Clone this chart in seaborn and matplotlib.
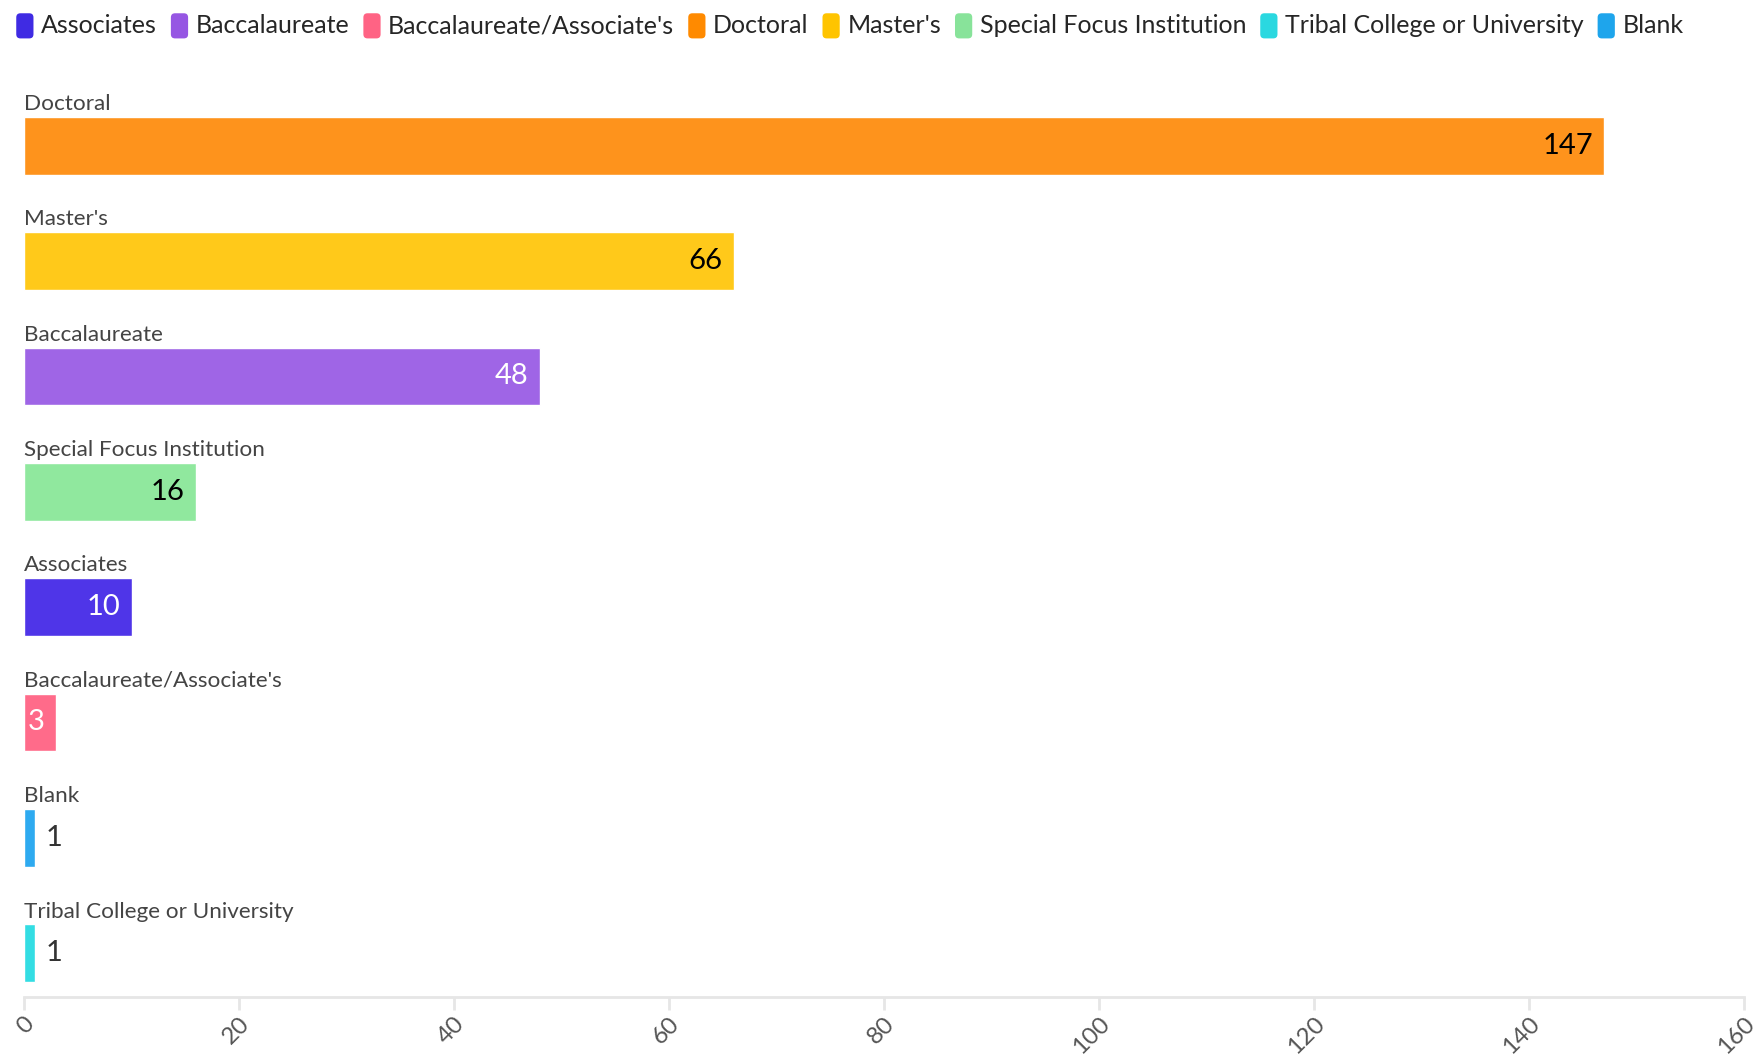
import matplotlib
matplotlib.use("Agg")
import matplotlib.pyplot as plt
import matplotlib.transforms as mtransforms
import seaborn as sns
import pandas as pd
from matplotlib.patches import FancyBboxPatch
from matplotlib.legend_handler import HandlerPatch
from matplotlib.patches import Patch

categories = ["Doctoral", "Master's", "Baccalaureate", "Special Focus Institution",
              "Associates", "Baccalaureate/Associate's", "Blank", "Tribal College or University"]
values = [147, 66, 48, 16, 10, 3, 1, 1]
legend_order = ["Associates", "Baccalaureate", "Baccalaureate/Associate's", "Doctoral",
                "Master's", "Special Focus Institution", "Tribal College or University", "Blank"]
bar_colors = {
    "Associates": "#4f35e8",
    "Baccalaureate": "#9f65e6",
    "Baccalaureate/Associate's": "#ff6b8a",
    "Doctoral": "#fe931c",
    "Master's": "#ffc91a",
    "Special Focus Institution": "#90e89e",
    "Tribal College or University": "#33dde3",
    "Blank": "#2eaaf0",
}
legend_colors = {
    "Associates": "#3f2be3",
    "Baccalaureate": "#9656e3",
    "Baccalaureate/Associate's": "#ff6384",
    "Doctoral": "#ff8a00",
    "Master's": "#ffc400",
    "Special Focus Institution": "#88e39a",
    "Tribal College or University": "#2ad8e0",
    "Blank": "#1ea5ec",
}
label_colors = {"Doctoral": "black", "Master's": "black", "Baccalaureate": "white",
                "Special Focus Institution": "black", "Associates": "white",
                "Baccalaureate/Associate's": "white", "Blank": "#333333",
                "Tribal College or University": "#333333"}
xticks = [0, 20, 40, 60, 80, 100, 120, 140, 160]

df = pd.DataFrame({"category": categories, "value": values})

sns.set_theme(style="white")
plt.rcParams["font.family"] = ["Lato", "DejaVu Sans"]

fig = plt.figure(figsize=(17.58, 10.6), dpi=100)
ax = fig.add_axes([24 / 1758, 1 - 997 / 1060, 1720 / 1758, (997 - 88) / 1060])

sns.barplot(data=df, y="category", x="value", hue="category", palette=bar_colors,
            order=categories, hue_order=categories, orient="h", width=0.5,
            legend=False, dodge=False, ax=ax, saturation=1)

# value labels
for cont in ax.containers:
    bars = [b for b in cont if b.get_width() == b.get_width() and b.get_height() > 0]
    for b in bars:
        w = b.get_width()
        yc = b.get_y() + b.get_height() / 2
        idx = int(round(yc))
        cat = categories[idx]
        if w >= 3:
            ax.annotate(f"{int(w)}", xy=(w, yc), xytext=(-8, 0), textcoords="offset points",
                        ha="right", va="center", fontsize=21, color=label_colors[cat])
        else:
            ax.annotate(f"{int(w)}", xy=(w, yc), xytext=(8, 0), textcoords="offset points",
                        ha="left", va="center", fontsize=21, color=label_colors[cat])

# category labels above bars
for i, cat in enumerate(categories):
    ax.annotate(cat, xy=(0, i - 0.25), xytext=(0, 2), textcoords="offset points",
                ha="left", va="bottom", fontsize=16.2, color="#444444")

ax.set_xlim(0, 160)
ax.set_ylim(7.38, -0.5)
ax.set_xticks(xticks)
ax.set_yticks([])
ax.set_xlabel("")
ax.set_ylabel("")
for s in ["top", "right", "left"]:
    ax.spines[s].set_visible(False)
ax.spines["bottom"].set_color("#e6e6e6")
ax.spines["bottom"].set_linewidth(2)
ax.tick_params(axis="x", which="major", length=9.5, width=2, color="#e6e6e6",
               bottom=True, pad=6)
ax.set_xticklabels([str(t) for t in xticks], rotation=45, ha="right", va="center",
                   rotation_mode="anchor", fontsize=17.5, color="#555555")
shift = mtransforms.ScaledTranslation(5 / 72, -1.5 / 72, fig.dpi_scale_trans)
for tick in ax.xaxis.get_major_ticks():
    tick.label1.set_transform(tick.label1.get_transform() + shift)


class RoundHandler(HandlerPatch):
    def create_artists(self, legend, orig_handle, xdescent, ydescent, width, height,
                       fontsize, trans):
        p = FancyBboxPatch((-xdescent + 1, -ydescent - 2), width - 2, height + 2,
                           boxstyle="round,pad=0,rounding_size=3",
                           facecolor=orig_handle.get_facecolor(), edgecolor="none",
                           transform=trans)
        return [p]


handles = [Patch(facecolor=legend_colors[c], edgecolor="none", label=c) for c in legend_order]
fig.legend(handles=handles, loc="upper left", bbox_to_anchor=(-0.0015, 1.004), ncol=8,
           frameon=False, fontsize=18.0, handlelength=0.8, handleheight=1.0,
           handletextpad=0.25, columnspacing=0.5, borderaxespad=0.3,
           handler_map={Patch: RoundHandler()})

fig.savefig("out.png", dpi=100)
